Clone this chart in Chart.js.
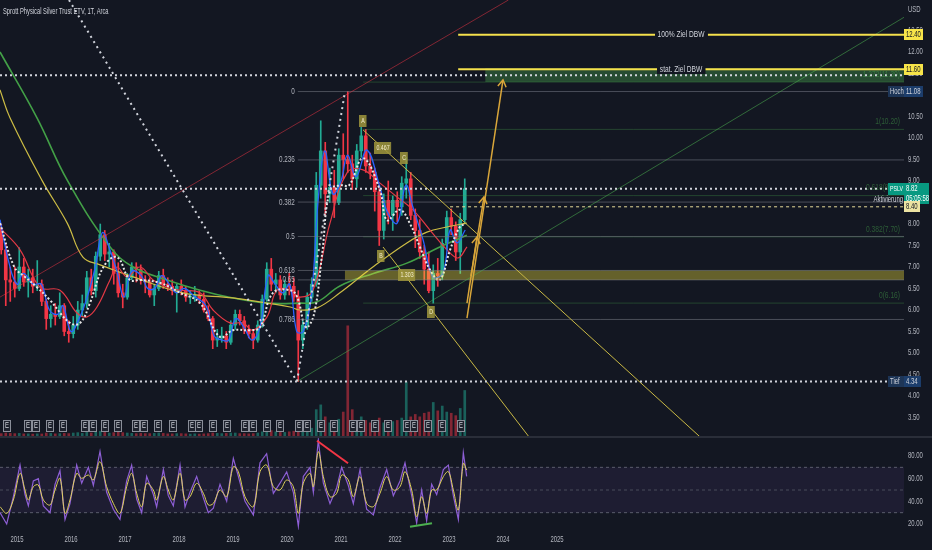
<!DOCTYPE html>
<html>
<head>
<meta charset="utf-8">
<script src="https://cdn.jsdelivr.net/npm/chart.js@4.4.1/dist/chart.umd.min.js"></script>
<style>
  html, body { margin: 0; padding: 0; background: #131722; }
  #wrap { width: 932px; height: 550px; overflow: hidden; }
  canvas { display: block; }
  #sep { height: 2px; background: #2a2e39; }
</style>
</head>
<body>
<div id="wrap">
  <canvas id="main" width="932" height="436" style="width:932px;height:436px"></canvas>
  <div id="sep"></div>
  <canvas id="rsi" width="932" height="112" style="width:932px;height:112px"></canvas>
</div>
<script>
// --- DATA: monthly candles (PSLV, USD) ---
const months = [
  '2014-09','2014-10','2014-11','2014-12',
  '2015-01','2015-02','2015-03','2015-04','2015-05','2015-06','2015-07','2015-08','2015-09','2015-10','2015-11','2015-12',
  '2016-01','2016-02','2016-03','2016-04','2016-05','2016-06','2016-07','2016-08','2016-09','2016-10','2016-11','2016-12',
  '2017-01','2017-02','2017-03','2017-04','2017-05','2017-06','2017-07','2017-08','2017-09','2017-10','2017-11','2017-12',
  '2018-01','2018-02','2018-03','2018-04','2018-05','2018-06','2018-07','2018-08','2018-09','2018-10','2018-11','2018-12',
  '2019-01','2019-02','2019-03','2019-04','2019-05','2019-06','2019-07','2019-08','2019-09','2019-10','2019-11','2019-12',
  '2020-01','2020-02','2020-03','2020-04','2020-05','2020-06','2020-07','2020-08','2020-09','2020-10','2020-11','2020-12',
  '2021-01','2021-02','2021-03','2021-04','2021-05','2021-06','2021-07','2021-08','2021-09','2021-10','2021-11','2021-12',
  '2022-01','2022-02','2022-03','2022-04','2022-05','2022-06','2022-07','2022-08','2022-09','2022-10','2022-11','2022-12',
  '2023-01','2023-02','2023-03','2023-04'
];
const open = [
  7.90,7.40,6.70,6.65,
  6.50,7.00,6.65,6.75,6.55,6.60,6.20,5.80,5.90,5.85,6.10,5.50,
  5.45,5.65,6.00,6.15,6.75,6.45,7.25,7.75,7.30,7.35,6.85,6.40,
  6.30,6.75,7.00,6.95,6.70,6.65,6.35,6.50,6.80,6.60,6.55,6.45,
  6.55,6.45,6.30,6.30,6.35,6.25,6.00,5.80,5.30,5.35,5.40,5.25,
  5.65,5.90,5.75,5.55,5.45,5.30,5.65,6.25,6.95,6.60,6.70,6.35,
  6.60,6.55,6.30,5.30,5.65,6.30,6.60,8.90,9.70,8.70,8.85,8.50,
  9.60,9.50,9.40,9.05,9.70,10.05,9.35,9.20,8.75,7.85,8.55,8.20,
  8.55,8.40,8.95,9.05,8.20,7.85,7.35,6.95,6.45,6.85,6.80,7.55,
  8.15,7.95,7.35,8.10
];
const high = [
  8.00,7.55,7.00,7.00,
  7.45,7.20,6.95,6.95,7.15,6.70,6.25,6.10,6.15,6.40,6.15,5.75,
  5.85,6.20,6.35,6.90,6.95,7.35,8.00,7.85,7.55,7.40,7.10,6.60,
  6.85,7.10,7.10,7.05,6.80,6.75,6.60,6.90,6.95,6.75,6.70,6.60,
  6.70,6.55,6.45,6.55,6.45,6.40,6.10,5.85,5.55,5.60,5.50,5.75,
  6.00,6.00,5.85,5.65,5.55,5.75,6.35,7.10,7.20,6.85,6.80,6.70,
  6.85,6.75,6.45,5.75,6.40,6.75,9.20,10.40,9.90,9.30,9.25,9.75,
  10.10,11.08,9.60,9.85,10.25,10.20,9.65,9.30,8.90,8.70,9.00,8.65,
  8.75,9.10,9.55,9.20,8.35,8.10,7.50,7.35,7.05,7.20,7.65,8.30,
  8.35,8.05,8.25,9.05
];
const low = [
  7.30,6.10,6.20,6.30,
  6.45,6.55,6.30,6.40,6.45,6.10,5.55,5.60,5.65,5.80,5.40,5.25,
  5.35,5.55,5.85,6.05,6.35,6.30,7.15,7.15,7.00,6.60,6.30,6.05,
  6.25,6.70,6.65,6.60,6.40,6.30,6.10,6.45,6.50,6.45,6.35,5.95,
  6.35,6.20,6.15,6.20,6.15,5.95,5.75,5.10,5.15,5.25,5.10,5.20,
  5.55,5.65,5.45,5.35,5.10,5.25,5.60,6.20,6.45,6.40,6.25,6.25,
  6.35,6.20,4.34,5.10,5.55,6.20,6.55,8.60,8.20,8.50,8.15,8.45,
  9.05,9.20,8.80,8.85,9.55,9.20,9.05,8.30,7.50,7.65,8.00,7.85,
  8.05,8.20,8.60,8.10,7.45,7.20,6.60,6.40,6.16,6.55,6.70,7.40,
  7.75,7.15,6.85,8.00
];
const close = [
  7.40,6.70,6.65,6.50,
  7.00,6.65,6.75,6.55,6.60,6.20,5.80,5.90,5.85,6.10,5.50,5.45,
  5.65,6.00,6.15,6.75,6.45,7.25,7.75,7.30,7.35,6.85,6.40,6.30,
  6.75,7.00,6.95,6.70,6.65,6.35,6.50,6.80,6.60,6.55,6.45,6.55,
  6.45,6.30,6.30,6.35,6.25,6.00,5.80,5.30,5.35,5.40,5.25,5.65,
  5.90,5.75,5.55,5.45,5.30,5.65,6.25,6.95,6.60,6.70,6.35,6.60,
  6.55,6.30,5.30,5.65,6.30,6.60,8.90,9.70,8.70,8.85,8.50,9.60,
  9.50,9.40,9.05,9.70,10.05,9.35,9.20,8.75,7.85,8.55,8.20,8.55,
  8.40,8.95,9.05,8.20,7.85,7.35,6.95,6.45,6.85,6.80,7.55,8.15,
  7.95,7.35,8.10,8.82
];
// peak daily volume per month, millions of shares
const volume = [
  2.0,2.5,2.2,2.0,
  2.2,1.8,1.8,1.6,1.8,1.7,2.5,2.2,1.8,2.0,2.2,2.0,
  2.5,2.8,2.2,3.0,2.5,3.5,4.0,3.0,2.5,2.8,3.2,2.8,
  2.5,2.2,2.0,2.2,2.0,2.0,2.2,2.5,2.2,1.8,1.8,2.0,
  2.0,1.8,1.6,1.8,1.6,1.8,2.0,2.5,2.2,2.0,2.2,2.5,
  2.5,2.0,2.0,1.8,2.0,2.5,3.5,5.0,4.5,3.5,3.0,3.0,
  3.5,4.0,9.0,6.0,7.0,6.5,22,26,16,11,13,14,
  20,92,22,13,16,13,11,13,15,11,12,12,
  13,15,45,16,18,16,19,20,28,21,25,20,
  19,17,23,38
];

// --- DATA: moving averages (decimal year, price) ---
const maGreenYears = [2014.685,2015.37,2015.93,2016.72,2017.15,2017.78,2018.39,2019.0,2019.63,2020.24,2020.56,2020.98,2021.6,2022.22,2022.8,2023.33];
const maGreen = [12.0,10.47,9.02,7.47,7.0,6.70,6.46,6.28,6.16,6.16,6.19,6.56,6.85,7.09,7.45,7.74];
const maOliveYears = [2014.685,2014.87,2015.46,2015.93,2016.22,2016.54,2017.15,2018.07,2019.0,2019.63,2020.06,2020.24,2020.56,2020.98,2021.59,2022.22,2022.59,2022.96,2023.33];
const maOlive = [11.12,10.47,9.02,8.02,7.23,7.05,6.77,6.40,6.28,6.16,6.07,6.0,6.05,6.40,7.0,7.56,7.81,7.93,8.02];
const maRedYears = [2014.685,2015.056,2015.426,2015.796,2016.111,2016.296,2016.481,2016.722,2016.852,2017.037,2017.278,2017.519,2017.778,2018.019,2018.389,2018.63,2018.944,2019.185,2019.37,2019.63,2019.815,2020.056,2020.24,2020.481,2020.796,2021.111,2021.407,2021.722,2022.037,2022.333,2022.648,2022.963,2023.167,2023.333];
const maRed = [7.91,7.40,6.53,6.46,5.93,5.84,6.07,6.70,7.00,6.77,7.00,6.70,6.53,6.46,6.40,6.00,5.70,5.70,5.53,5.84,6.46,6.46,6.30,6.46,8.02,9.19,9.26,8.95,8.63,8.33,7.86,7.40,7.21,7.47];
const maBlueYears = [2014.685,2014.85,2015.0,2015.12,2015.3,2015.45,2015.6,2015.75,2015.85,2016.0,2016.15,2016.3,2016.45,2016.58,2016.72,2016.85,2016.98,2017.12,2017.3,2017.42,2017.55,2017.68,2017.82,2017.95,2018.1,2018.3,2018.5,2018.65,2018.8,2018.92,2019.05,2019.2,2019.35,2019.5,2019.65,2019.78,2019.92,2020.05,2020.18,2020.3,2020.45,2020.58,2020.7,2020.85,2021.0,2021.12,2021.28,2021.48,2021.72,2021.85,2022.04,2022.2,2022.33,2022.52,2022.7,2022.89,2023.02,2023.15,2023.3];
const maBlue = [8.1,7.1,6.6,6.85,6.6,6.6,6.0,5.9,6.1,5.5,5.8,6.3,7.0,7.8,7.4,6.9,6.3,6.9,6.8,6.5,6.5,6.8,6.6,6.4,6.5,6.3,6.1,5.4,5.3,5.3,5.8,5.6,5.3,5.6,6.8,6.6,6.4,6.6,5.5,5.5,6.3,8.6,9.7,8.7,9.0,9.6,9.1,9.72,8.86,8.3,8.02,8.9,8.40,7.63,6.77,6.86,7.86,7.56,7.86];
const maWhiteYears = [2014.685,2014.95,2015.15,2015.37,2015.61,2015.98,2016.17,2016.35,2016.60,2016.85,2017.09,2017.28,2017.65,2018.02,2018.39,2018.76,2019.0,2019.32,2019.5,2019.74,2020.06,2020.19,2020.35,2020.5,2020.65,2020.8,2021.0,2021.15,2021.41,2021.72,2021.85,2022.09,2022.28,2022.46,2022.65,2022.83,2023.02,2023.2,2023.3];
const maWhite = [8.02,7.0,6.77,6.53,6.23,5.70,5.70,6.16,7.0,7.23,6.70,6.70,6.63,6.40,6.16,5.37,5.53,5.53,5.60,6.40,6.46,6.30,5.6,5.9,7.3,8.8,8.9,8.9,9.53,8.79,8.09,8.33,8.0,7.47,6.93,6.70,7.40,7.93,8.0];

// --- DATA: RSI pane ---
const rsiYears = [2014.685,2014.809,2014.932,2015.056,2015.148,2015.210,2015.302,2015.395,2015.488,2015.611,2015.704,2015.796,2015.889,2015.981,2016.105,2016.198,2016.321,2016.414,2016.537,2016.660,2016.784,2016.907,2017.031,2017.123,2017.216,2017.309,2017.401,2017.525,2017.586,2017.710,2017.802,2017.895,2018.019,2018.111,2018.204,2018.327,2018.451,2018.543,2018.636,2018.759,2018.883,2019.006,2019.099,2019.222,2019.377,2019.500,2019.623,2019.747,2019.870,2019.994,2020.117,2020.210,2020.302,2020.426,2020.488,2020.580,2020.673,2020.796,2020.920,2021.012,2021.136,2021.228,2021.352,2021.475,2021.599,2021.722,2021.846,2021.969,2022.093,2022.185,2022.309,2022.401,2022.494,2022.586,2022.679,2022.772,2022.895,2022.988,2023.080,2023.173,2023.265,2023.327];
const rsiValues = [30,20,44,72,46,36,58,60,36,30,55,67,24,38,72,56,70,54,84,48,33,24,58,72,42,30,62,46,35,68,45,36,72,35,48,62,43,30,34,55,40,78,62,40,28,74,82,47,56,66,48,18,62,70,48,94,56,38,52,70,54,38,68,33,28,52,68,45,58,74,45,21,50,23,55,46,68,72,45,24,83,62];
const rsiSmooth = [35.3,29.4,41.2,64.7,50,41.2,52.9,54.4,41.2,36.8,50,60.3,29.4,41.2,64.7,60.3,63.2,58.8,75,52.9,38.2,29.4,52.9,64.7,47.1,35.3,55.9,50,41.2,61.8,50,41.2,64.7,41.2,44.1,55.9,47.1,36.8,38.2,50,44.1,70.6,66.2,44.1,35.3,66.2,72.0,52.9,50,58.8,52.9,29.4,55.9,64.7,52.9,83.8,61.8,44.1,47.1,63.2,58.8,44.1,61.8,38.2,35.3,47.1,61.8,50,52.9,66.2,50,26.5,44.1,29.4,50,50,61.8,66.2,50,32.4,73.5,67.6];
const rsiBearDiv = [[2020.556, 93.5], [2021.130, 73.6]];
const rsiBullDiv = [[2022.278, 17.6], [2022.685, 20.6]];

// --- DATA: earnings dates ---
const earnings = [2014.815,2015.204,2015.352,2015.611,2015.852,2016.259,2016.407,2016.630,2016.870,2017.204,2017.352,2017.611,2017.889,2018.241,2018.370,2018.630,2018.889,2019.222,2019.370,2019.630,2019.870,2020.222,2020.370,2020.630,2020.870,2021.222,2021.370,2021.630,2021.870,2022.222,2022.352,2022.611,2022.870,2023.222];

// --- DATA: drawings (decimal year, price) ---
const channelRed = [[2014.685, 6.30], [2024.10, 13.21]];
const channelGreen = [[2020.19, 4.34], [2031.43, 12.81]];
const dottedDown = [[2015.963, 13.21], [2020.185, 4.34]];
const dottedUp = [[2020.185, 4.34], [2021.074, 11.08]];
const trendA = [[2021.407, 10.19], [2027.648, 3.05]];
const trendB = [[2021.778, 7.465], [2024.481, 3.05]];
const arrowLong = [[2023.333, 5.81], [2024.000, 11.35]];
const arrowMid = [[2023.407, 6.79], [2023.648, 8.63]];
const arrowShort = [[2023.333, 6.16], [2023.519, 7.70]];

const fibRatios = ['0', '0.236', '0.382', '0.5', '0.618', '0.65', '0.786'];
const fibPrices = [11.08, 9.49, 8.51, 7.71, 6.92, 6.70, 5.78];
const fibStart = 2020.20;
const extLabels = ['1.272(11.30)', '1(10.20)', '0.618(8.66)', '0.382(7.70)', '0(6.16)'];
const extPrices = [11.30, 10.20, 8.66, 7.70, 6.16];
const extStart = 2021.41;
const targetLabels = ['100% Ziel DBW', 'stat. Ziel DBW'];
const targetPrices = [12.40, 11.60];
const targetStart = 2023.17;
const targetZone = [2023.67, 11.30, 11.62];   // start, low, high
const pocketZone = [2021.07, 6.70, 6.92];
const dottedLevels = [11.46, 8.82, 4.34];
const activation = [2023.02, 8.40];
const patternLabels = ['A', 'B', 'C', 'D', '0.467', '1.303'];
const patternYears = [2021.407, 2021.741, 2022.167, 2022.667, 2021.778, 2022.222];
const patternPrices = [10.40, 7.256, 9.535, 5.953, 9.767, 6.814];

// --- DATA: axis ticks ---
const priceTicks = [3.5, 4, 4.5, 5, 5.5, 6, 6.5, 7, 7.5, 8, 8.5, 9, 9.5, 10, 10.5, 11, 11.5, 12, 12.5];
const rsiTicks = [20, 40, 60, 80];
const yearTicks = [2015, 2016, 2017, 2018, 2019, 2020, 2021, 2022, 2023, 2024, 2025];

// --- CONFIGURATION ---
const FONT = "'Liberation Sans', 'Noto Sans', sans-serif";
const SQUEEZE = 0.7;
const BG = '#131722';
const TEXT = '#d1d4dc';
const AXIS_TEXT = '#b2b5be';
const UP = '#22ab94', DOWN = '#f23645';
const X_MIN = 2014.685, X_MAX = 2031.426;
const P_MIN = 3.0698, P_MAX = 13.2093;
const R_MIN = 14.71, R_MAX = 95.88;

// --- HELPER FUNCTIONS ---
const monthYear = m => { const [y, mo] = m.split('-').map(Number); return y + (mo - 0.5) / 12; };
const zip = (xs, ys) => xs.map((x, i) => ({x, y: ys[i]}));
const pairs = arr => arr.map(([x, y]) => ({x, y}));

function lineDs(data, color, width, extra) {
  return Object.assign({
    type: 'line', data, borderColor: color, borderWidth: width,
    pointRadius: 0, fill: false, tension: 0, order: 10
  }, extra || {});
}
function levelDs(price, from, color, width, extra) {
  return lineDs([{x: from, y: price}, {x: X_MAX, y: price}], color, width, extra);
}
function zoneDs(zone, color) {
  return lineDs([{x: zone[0], y: zone[2]}, {x: X_MAX, y: zone[2]}], 'rgba(0,0,0,0)', 0,
    {fill: {value: zone[1]}, backgroundColor: color, order: 20});
}

function drawText(ctx, s, px, py, o) {
  o = o || {};
  ctx.save();
  ctx.font = (o.bold ? 'bold ' : '') + (o.size || 9) + 'px ' + FONT;
  ctx.fillStyle = o.color || TEXT;
  ctx.textAlign = o.align || 'left';
  ctx.textBaseline = 'middle';
  ctx.translate(px, py);
  ctx.scale(o.squeeze || SQUEEZE, 1);
  ctx.fillText(s, 0, 0);
  ctx.restore();
}
function textWidth(ctx, s, size) {
  ctx.save();
  ctx.font = (size || 9) + 'px ' + FONT;
  const w = ctx.measureText(s).width * SQUEEZE;
  ctx.restore();
  return w;
}
function box(ctx, x0, y0, w, h, bg) {
  ctx.fillStyle = bg;
  ctx.fillRect(Math.round(x0), Math.round(y0), w, h);
}
// keep the plot area flush with the canvas edges
function noPad(s) { s.paddingTop = 0; s.paddingBottom = 0; s.paddingLeft = 0; s.paddingRight = 0; }

// --- CANDLES & VOLUME ---
const candleX = months.map(monthYear);
const candleColor = close.map((c, i) => c >= open[i] ? UP : DOWN);
const volColor = close.map((c, i) => c >= open[i] ? 'rgba(34,171,148,0.5)' : 'rgba(242,54,69,0.5)');

const mainDatasets = [
  // drawings on top
  lineDs(pairs(arrowLong), '#d9a63a', 1.5, {arrowHead: true, order: 1}),
  lineDs(pairs(arrowMid), '#d9a63a', 1.5, {arrowHead: true, order: 1}),
  lineDs(pairs(arrowShort), '#d9a63a', 1.5, {arrowHead: true, order: 1}),
  ...targetPrices.map(p => levelDs(p, targetStart, '#f5e04c', 2, {order: 2})),
  levelDs(activation[1], activation[0], '#e8dc9a', 1, {borderDash: [3, 3], order: 3}),
  ...dottedLevels.map(p => levelDs(p, X_MIN, '#d1d4dc', 2, {borderDash: [2, 3], order: 3})),
  lineDs(pairs(trendA), '#c8b845', 1, {order: 4}),
  lineDs(pairs(trendB), '#c8b845', 1, {order: 4}),
  lineDs(pairs(dottedDown), '#d1d4dc', 2, {borderDash: [2, 4], order: 4}),
  lineDs(pairs(dottedUp), '#d1d4dc', 2, {borderDash: [2, 4], order: 4}),
  lineDs(pairs(channelRed), 'rgba(242,54,69,0.5)', 1, {order: 5}),
  lineDs(pairs(channelGreen), 'rgba(76,175,80,0.55)', 1, {order: 5}),
  ...fibPrices.map(p => levelDs(p, fibStart, 'rgba(120,123,134,0.55)', 1, {order: 6})),
  ...extPrices.map(p => levelDs(p, extStart, 'rgba(76,175,80,0.3)', 1, {order: 6})),
  zoneDs(targetZone, 'rgba(76,175,80,0.35)'),
  zoneDs(pocketZone, 'rgba(255,235,59,0.35)'),
  // moving averages
  lineDs(zip(maWhiteYears, maWhite), '#e6e6e6', 2, {tension: 0.4, borderDash: [2, 2], order: 30}),
  lineDs(zip(maBlueYears, maBlue), '#2962ff', 1.3, {tension: 0.4, order: 31}),
  lineDs(zip(maRedYears, maRed), '#e53945', 1.2, {tension: 0.4, order: 32}),
  lineDs(zip(maOliveYears, maOlive), '#cdbd45', 1.2, {tension: 0.4, order: 33}),
  lineDs(zip(maGreenYears, maGreen), '#43a047', 1.6, {tension: 0.4, order: 34}),
  // candles
  {type: 'bar', data: candleX.map((x, i) => ({x, y: [Math.min(open[i], close[i]), Math.max(open[i], close[i])]})),
   backgroundColor: candleColor, barThickness: 3, minBarLength: 1, grouped: false, order: 40},
  {type: 'bar', data: candleX.map((x, i) => ({x, y: [low[i], high[i]]})),
   backgroundColor: candleColor, barThickness: 1, grouped: false, order: 41},
  {type: 'bar', yAxisID: 'vol', data: candleX.map((x, i) => ({x, y: volume[i]})),
   backgroundColor: volColor, barThickness: 2, grouped: false, order: 50}
];

// --- PLUGINS ---
const arrowHeads = {
  id: 'arrowHeads',
  afterDatasetsDraw(chart) {
    const ctx = chart.ctx;
    chart.data.datasets.forEach((ds, i) => {
      if (!ds.arrowHead) return;
      const pts = chart.getDatasetMeta(i).data;
      const a = pts[pts.length - 2], b = pts[pts.length - 1];
      const ang = Math.atan2(b.y - a.y, b.x - a.x);
      ctx.save();
      ctx.strokeStyle = ds.borderColor;
      ctx.lineWidth = 1.5;
      ctx.beginPath();
      ctx.moveTo(b.x - 8 * Math.cos(ang - 0.55), b.y - 8 * Math.sin(ang - 0.55));
      ctx.lineTo(b.x, b.y);
      ctx.lineTo(b.x - 8 * Math.cos(ang + 0.55), b.y - 8 * Math.sin(ang + 0.55));
      ctx.stroke();
      ctx.restore();
    });
  }
};

// price scale labels, drawn from the scale's own ticks
const yLabels = {
  id: 'yLabels',
  afterDatasetsDraw(chart) {
    const {ctx, chartArea: a, scales: {y}} = chart;
    y.ticks.forEach(t => drawText(ctx, Number(t.value).toFixed(2), a.right + 4, y.getPixelForValue(t.value),
      {size: 8.5, color: AXIS_TEXT}));
  }
};

const mainOverlay = {
  id: 'mainOverlay',
  afterDraw(chart) {
    const {ctx, chartArea: a, scales: {x, y}} = chart;
    const R = a.right;

    drawText(ctx, 'Sprott Physical Silver Trust ETV, 1T, Arca', 3, 12, {size: 9, squeeze: 0.64});

    // fib retracement labels
    fibPrices.forEach((p, i) =>
      drawText(ctx, fibRatios[i], x.getPixelForValue(fibStart) - 3, y.getPixelForValue(p), {align: 'right', color: AXIS_TEXT}));
    // fib extension labels
    extPrices.forEach((p, i) =>
      drawText(ctx, extLabels[i], R - 4, y.getPixelForValue(p) - 8, {align: 'right', color: 'rgba(76,175,80,0.45)', size: 9.5}));
    // target line texts
    targetPrices.forEach((p, i) => {
      const cx = (x.getPixelForValue(targetStart) + R) / 2;
      const py = y.getPixelForValue(p);
      const w = textWidth(ctx, targetLabels[i], 9.5) + 6;
      box(ctx, cx - w / 2, py - 5, w, 10, BG);
      drawText(ctx, targetLabels[i], cx, py, {align: 'center', size: 9.5});
    });
    // pattern point badges
    patternLabels.forEach((s, i) => {
      const px = x.getPixelForValue(patternYears[i]);
      const py = y.getPixelForValue(patternPrices[i]);
      const w = Math.max(7, textWidth(ctx, s, 7.5) + 4);
      box(ctx, px - w / 2, py - 6, w, 12, 'rgba(160,150,60,0.85)');
      drawText(ctx, s, px, py, {align: 'center', size: 7.5, color: '#f3eccc'});
    });
    // earnings markers
    earnings.forEach(yr => {
      const px = Math.round(x.getPixelForValue(yr));
      ctx.save();
      ctx.fillStyle = '#1e222d';
      ctx.strokeStyle = '#8a8e99';
      ctx.lineWidth = 1;
      ctx.fillRect(px - 4, a.bottom - 16, 8, 12);
      ctx.strokeRect(px - 3.5, a.bottom - 15.5, 7, 11);
      ctx.restore();
      drawText(ctx, 'E', px, a.bottom - 10, {align: 'center', size: 8.5, color: TEXT});
    });

    // activation text
    drawText(ctx, 'Aktivierung', R - 1, y.getPixelForValue(activation[1]) - 7, {align: 'right', size: 8.5, color: TEXT});

    // price axis badges
    const badge = (label, price, bg, fg, w) => {
      const py = y.getPixelForValue(price);
      box(ctx, R, py - 5.5, w, 11, bg);
      drawText(ctx, label, R + 2, py, {size: 8.5, color: fg});
    };
    const tag = (label, price, bg) => {
      const py = y.getPixelForValue(price);
      box(ctx, R - 16, py - 5.5, 16, 11, bg);
      drawText(ctx, label, R - 14, py, {size: 8.5, color: TEXT});
    };
    targetPrices.forEach(p => badge(p.toFixed(2), p, '#f7e449', '#131722', 19));
    tag('Hoch', 11.08, '#1d3557');
    badge('11.08', 11.08, '#1c3d6b', TEXT, 19);
    tag('Tief', 4.34, '#1d3557');
    badge('4.34', 4.34, '#1c3d6b', TEXT, 17);
    // last price
    const last = close[close.length - 1];
    const lp = y.getPixelForValue(last);
    box(ctx, R - 16, lp - 6, 16, 12, '#089981');
    drawText(ctx, 'PSLV', R - 14, lp, {size: 8, color: '#ffffff', squeeze: 0.66});
    box(ctx, R, lp - 6, 25, 21, '#089981');
    drawText(ctx, last.toFixed(2), R + 2, lp, {size: 8.5, color: '#ffffff'});
    drawText(ctx, '05:05:58', R + 2, lp + 10, {size: 8.5, color: '#ffffff'});
    badge(activation[1].toFixed(2), activation[1], '#ece3a2', '#131722', 16);

    drawText(ctx, 'USD', R + 4, 10, {size: 8.5, color: AXIS_TEXT});
  }
};

// --- MAIN PRICE CHART ---
new Chart(document.getElementById('main'), {
  type: 'line',
  data: {datasets: mainDatasets},
  options: {
    responsive: false,
    animation: false,
    events: [],
    layout: {padding: 0, autoPadding: false},
    plugins: {legend: {display: false}, tooltip: {enabled: false}},
    scales: {
      x: {type: 'linear', min: X_MIN, max: X_MAX, display: false, offset: false},
      y: {
        type: 'linear', position: 'right', min: P_MIN, max: P_MAX,
        grid: {display: false, drawTicks: false}, border: {display: false},
        ticks: {display: false},
        afterBuildTicks: s => { s.ticks = priceTicks.map(v => ({value: v})); },
        afterFit: s => { s.width = 28; noPad(s); }
      },
      vol: {type: 'linear', display: false, min: 0, max: 364}
    }
  },
  plugins: [arrowHeads, yLabels, mainOverlay]
});

// --- RSI CHART ---
const rsiLabels = {
  id: 'rsiLabels',
  afterDraw(chart) {
    const {ctx, chartArea: a, scales: {x, y}} = chart;
    y.ticks.forEach(t => drawText(ctx, Number(t.value).toFixed(2), a.right + 4, y.getPixelForValue(t.value),
      {size: 8.5, color: AXIS_TEXT}));
    x.ticks.forEach(t => drawText(ctx, String(t.value), x.getPixelForValue(t.value), a.bottom + 10,
      {size: 8.5, color: AXIS_TEXT, align: 'center'}));
  }
};
const flat = v => [{x: X_MIN, y: v}, {x: X_MAX, y: v}];
new Chart(document.getElementById('rsi'), {
  type: 'line',
  data: {
    datasets: [
      lineDs(pairs(rsiBearDiv), '#f23645', 2, {order: 1}),
      lineDs(pairs(rsiBullDiv), '#4caf50', 2, {order: 1}),
      lineDs(zip(rsiYears, rsiSmooth), '#e0d25a', 1, {tension: 0.35, order: 2}),
      lineDs(zip(rsiYears, rsiValues), '#8e5fd6', 1.2, {order: 3}),
      lineDs(flat(70), 'rgba(120,123,134,0.7)', 1, {borderDash: [3, 3], order: 4}),
      lineDs(flat(50), 'rgba(120,123,134,0.5)', 1, {borderDash: [3, 3], order: 4}),
      lineDs(flat(30), 'rgba(120,123,134,0.7)', 1, {borderDash: [3, 3], order: 4}),
      lineDs(flat(70), 'rgba(0,0,0,0)', 0, {fill: {value: 30}, backgroundColor: 'rgba(126,87,194,0.1)', order: 9})
    ]
  },
  options: {
    responsive: false,
    animation: false,
    events: [],
    layout: {padding: 0, autoPadding: false},
    plugins: {legend: {display: false}, tooltip: {enabled: false}},
    scales: {
      x: {
        type: 'linear', min: X_MIN, max: X_MAX, offset: false,
        grid: {display: false, drawTicks: false}, border: {display: false},
        ticks: {display: false},
        afterBuildTicks: s => { s.ticks = yearTicks.map(v => ({value: v})); },
        afterFit: s => { s.height = 20; noPad(s); }
      },
      y: {
        type: 'linear', position: 'right', min: R_MIN, max: R_MAX,
        grid: {display: false, drawTicks: false}, border: {display: false},
        ticks: {display: false},
        afterBuildTicks: s => { s.ticks = rsiTicks.map(v => ({value: v})); },
        afterFit: s => { s.width = 28; noPad(s); }
      }
    }
  },
  plugins: [rsiLabels]
});
</script>
</body>
</html>
